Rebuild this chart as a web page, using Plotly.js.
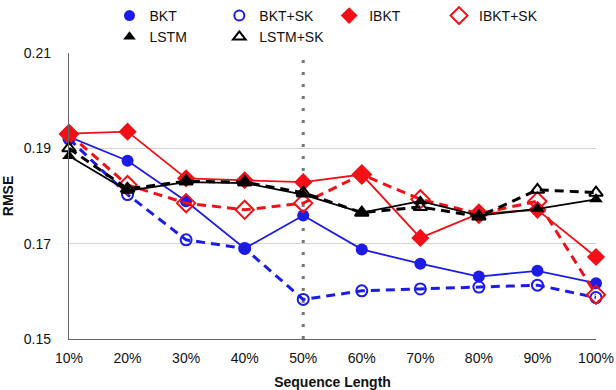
<!DOCTYPE html>
<html>
<head>
<meta charset="utf-8">
<script src="https://cdn.plot.ly/plotly-3.0.1.min.js"></script>
<style>html,body{margin:0;padding:0;background:#fff;}#chart{width:616px;height:390px;}</style>
</head>
<body>
<div id="chart"></div>
<script>
const categories = ['10%','20%','30%','40%','50%','60%','70%','80%','90%','100%'];
const bkt      = [0.1924,0.1874,0.1789,0.1690,0.1759,0.1688,0.1658,0.1631,0.1643,0.1617];
const bktSK    = [0.1920,0.1803,0.1708,0.1690,0.1583,0.1601,0.1605,0.1609,0.1613,0.1587];
const ibkt     = [0.1931,0.1935,0.1837,0.1833,0.1829,0.1845,0.1712,0.1763,0.1771,0.1672];
const ibktSK   = [0.1930,0.1823,0.1785,0.1771,0.1785,0.1845,0.1793,0.1763,0.1789,0.1593];
const lstm     = [0.1884,0.1811,0.1829,0.1827,0.1803,0.1765,0.1789,0.1759,0.1773,0.1793];
const lstmSK   = [0.1900,0.1815,0.1831,0.1829,0.1807,0.1765,0.1777,0.1757,0.1813,0.1807];
const yTicks   = [0.15,0.17,0.19,0.21];
const markerLine = '50%';

const BLUE = '#1c1ce6', RED = '#f21018', BLACK = '#000000';
const DASH = '9px,6px';

const series = [
  {name:'BKT',      y:bkt,    color:BLUE,  symbol:'circle',        dash:'solid', w:1.8, size:12},
  {name:'BKT+SK',   y:bktSK,  color:BLUE,  symbol:'circle-open',   dash:DASH,    w:3,   size:11},
  {name:'IBKT',     y:ibkt,   color:RED,   symbol:'diamond',       dash:'solid', w:1.8, size:14},
  {name:'IBKT+SK',  y:ibktSK, color:RED,   symbol:'diamond-open',  dash:DASH,    w:3,   size:14},
  {name:'LSTM',     y:lstm,   color:BLACK, symbol:'triangle-up',   dash:'solid', w:1.8, size:12},
  {name:'LSTM+SK',  y:lstmSK, color:BLACK, symbol:'triangle-up-open', dash:DASH, w:3,   size:12}
];

const traces = [];
series.forEach(s => {
  const open = s.symbol.endsWith('open');
  traces.push({
    type:'scatter', mode:'lines+markers', x:categories, y:s.y, name:s.name,
    showlegend:false, cliponaxis:false,
    line:{color:s.color, width:s.w, dash:s.dash},
    marker:{symbol:s.symbol, size:s.size, color:s.color, line:{color:s.color, width:open ? 2 : 0}}
  });
});
series.forEach(s => {
  const open = s.symbol.endsWith('open');
  traces.push({
    type:'scatter', mode:'markers', x:[null], y:[null], name:s.name, showlegend:true,
    marker:{symbol:s.symbol, size:s.size-1, color:s.color, line:{color:s.color, width:open ? 2 : 0}}
  });
});

const layout = {
  width:616, height:390,
  margin:{l:69, r:20, t:42, b:51},
  paper_bgcolor:'#fff', plot_bgcolor:'#fff',
  font:{family:'Liberation Sans, Arial, sans-serif', size:14, color:'#111'},
  showlegend:true,
  legend:{orientation:'h', xref:'container', yref:'container', x:0.53, xanchor:'center', y:1, yanchor:'top',
          font:{size:14, color:'#111'}, itemwidth:30, tracegroupgap:0, bgcolor:'rgba(0,0,0,0)'},
  xaxis:{type:'category', range:[0, categories.length-1], showgrid:false, zeroline:false,
         showline:true, linecolor:'#666', linewidth:1.2, ticks:'', ticklabelstandoff:6,
         tickfont:{size:14, color:'#111'},
         title:{text:'<b>Sequence Length</b>', font:{size:14, color:'#111'}, standoff:12}},
  yaxis:{range:[0.15,0.21], tickvals:yTicks, tickformat:'.2f', showgrid:true, gridcolor:'#d3d3d3', gridwidth:1.2,
         zeroline:false, showline:true, linecolor:'#666', linewidth:1.2, ticks:'', ticklabelstandoff:14,
         tickfont:{size:14, color:'#111'},
         title:{text:'<b>RMSE</b>', font:{size:14, color:'#111'}, standoff:10}},
  shapes:[{type:'line', xref:'x', yref:'paper', x0:categories.indexOf(markerLine), x1:categories.indexOf(markerLine),
           y0:0, y1:1, line:{color:'#777', width:3, dash:'3px,9px'}, layer:'below'}]
};

Plotly.newPlot('chart', traces, layout, {displayModeBar:false, staticPlot:true});
</script>
</body>
</html>
